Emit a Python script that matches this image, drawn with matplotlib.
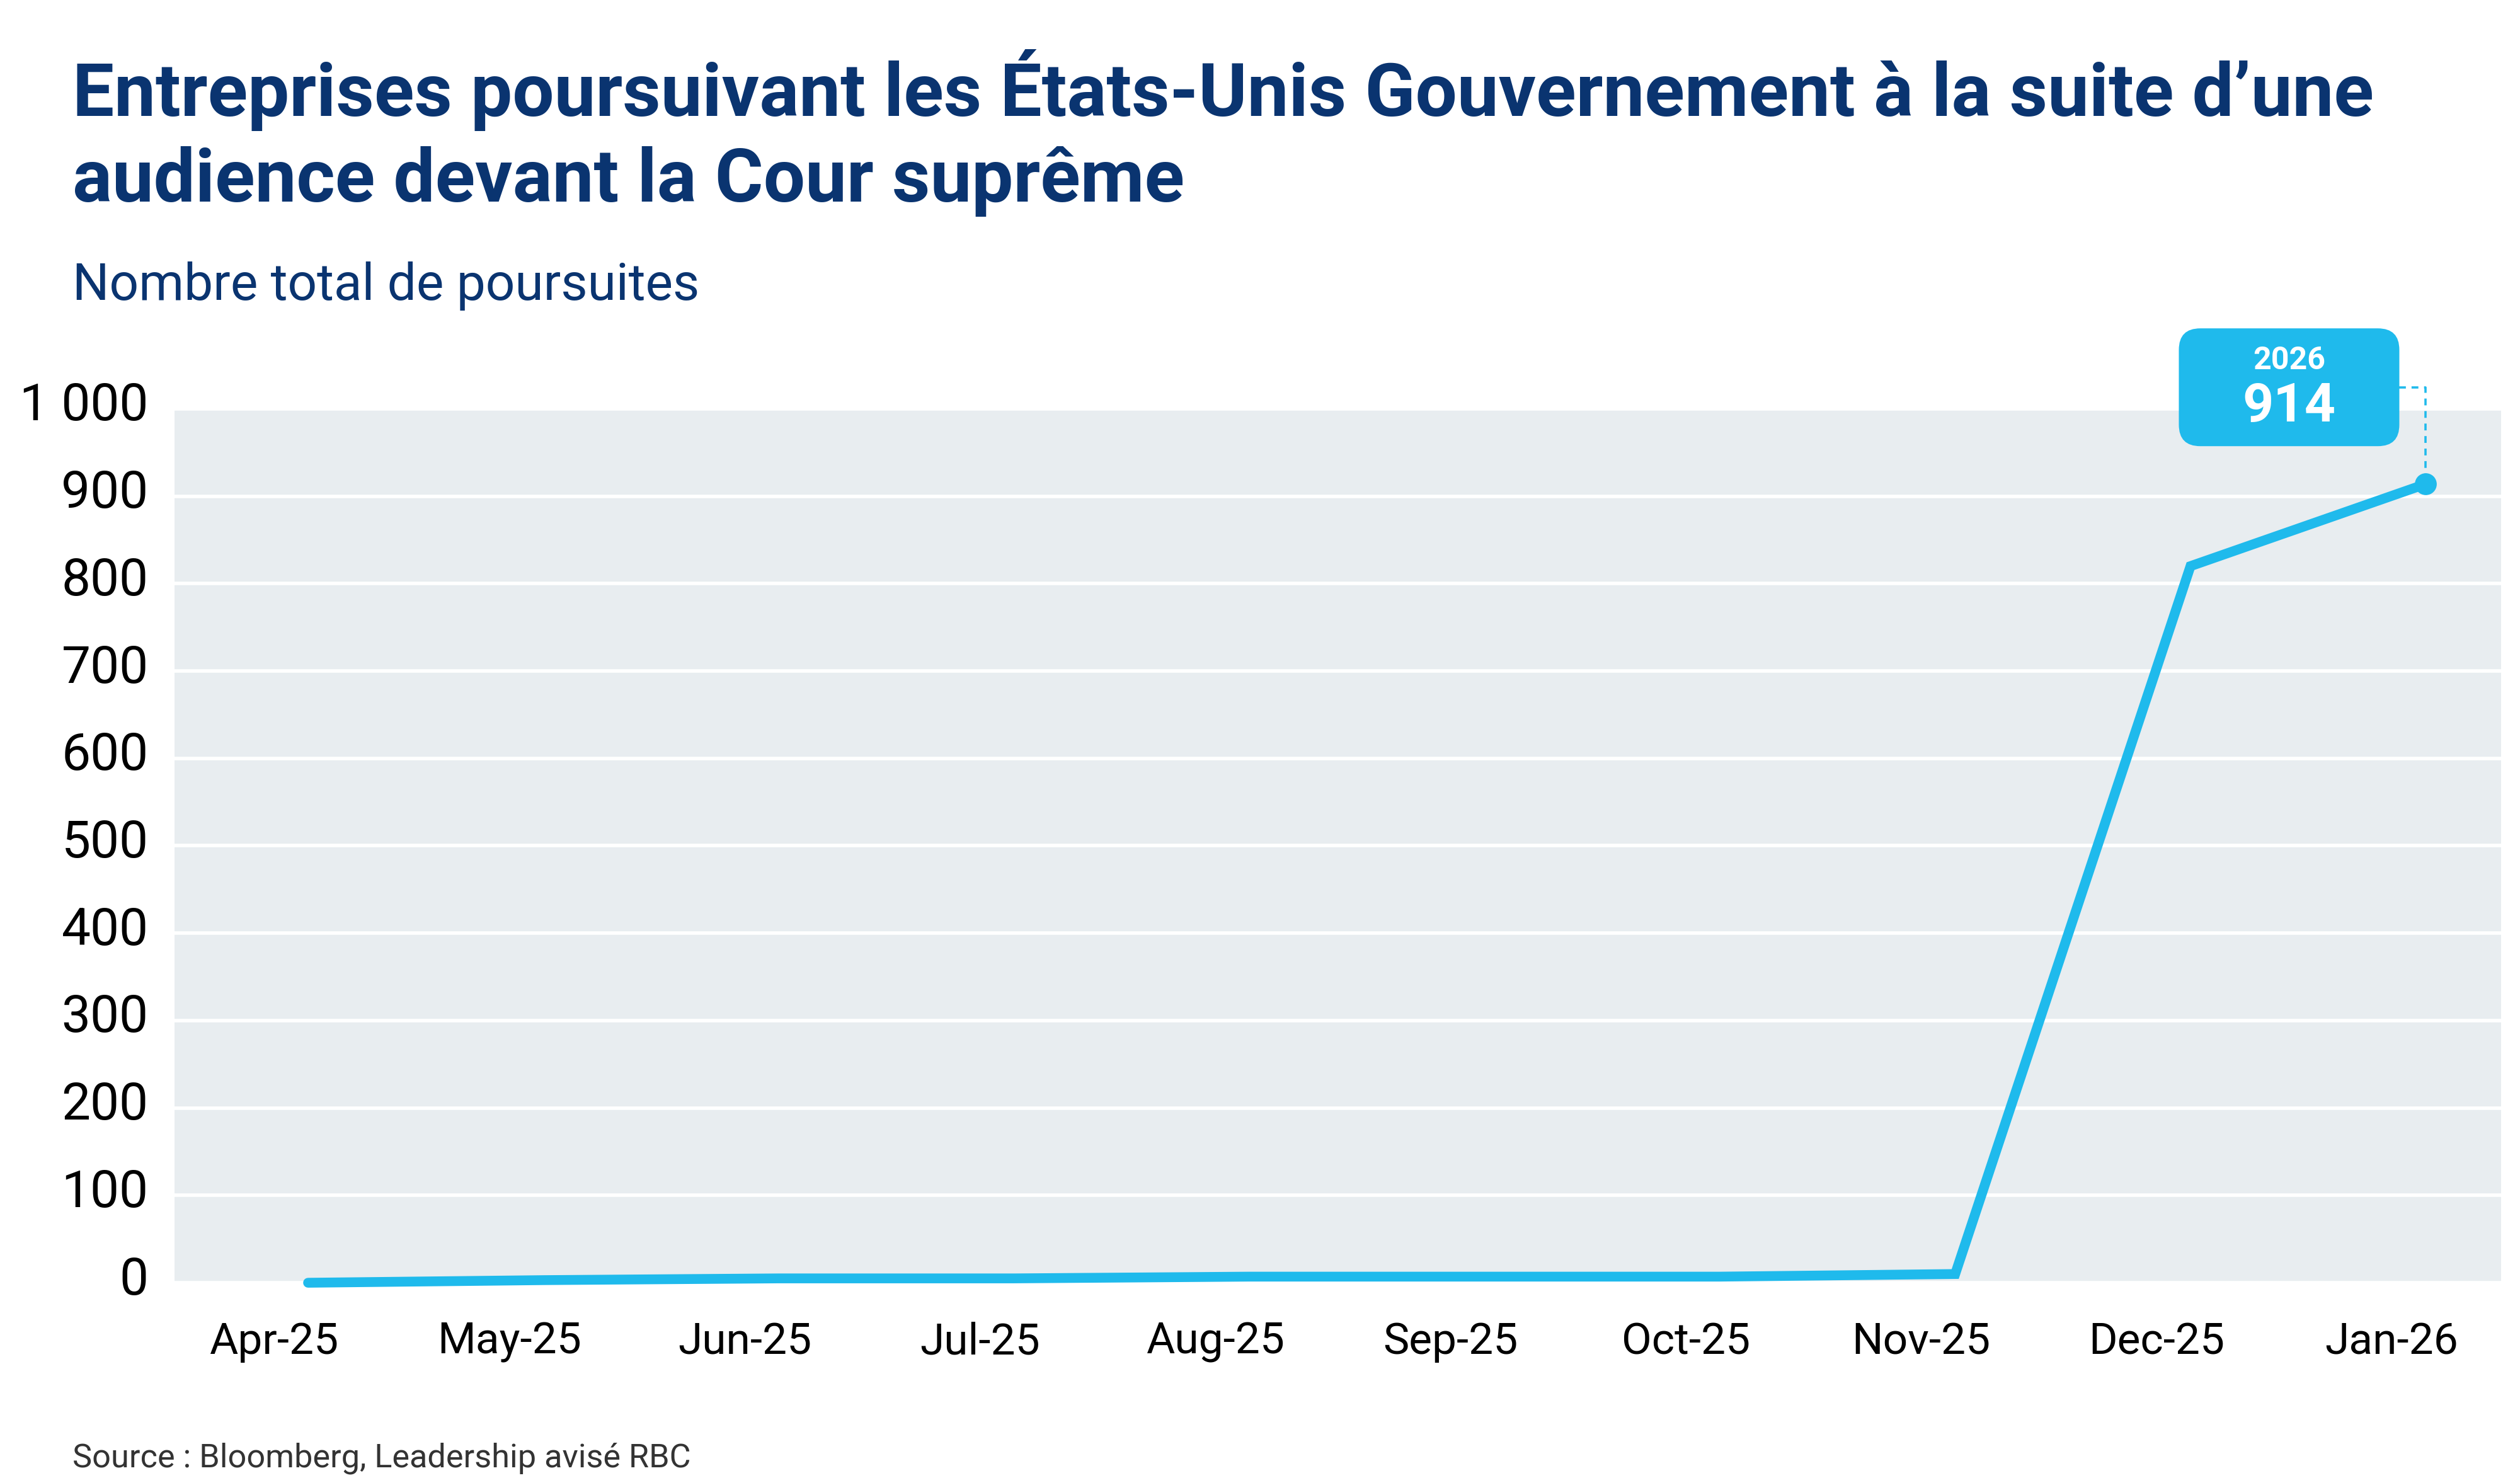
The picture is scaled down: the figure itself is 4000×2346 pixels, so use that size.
import matplotlib
matplotlib.use("Agg")
import matplotlib.pyplot as plt
import matplotlib.transforms as mtransforms
from matplotlib.patches import FancyBboxPatch
import numpy as np

# ---- data ----
months = ["Apr-25", "May-25", "Jun-25", "Jul-25", "Aug-25", "Sep-25",
          "Oct-25", "Nov-25", "Dec-25", "Jan-26"]
lawsuits = [0, 3, 5, 5, 7, 7, 7, 10, 820, 914]
y_ticks = [0, 100, 200, 300, 400, 500, 600, 700, 800, 900, 1000]
y_ticklabels = ["0", "100", "200", "300", "400", "500", "600", "700", "800", "900", "1 000"]
callout_year = "2026"
callout_value = "914"

title_line1 = "Entreprises poursuivant les États-Unis Gouvernement à la suite d’une"
title_line2 = "audience devant la Cour suprême"
subtitle = "Nombre total de poursuites"
source = "Source : Bloomberg, Leadership avisé RBC"

# ---- style ----
NAVY = "#0A3470"
BLUE = "#1FBAEC"
BG = "#E8EDF0"
FONT = ["Roboto", "DejaVu Sans"]
plt.rcParams["font.family"] = FONT

DPI = 200
fig = plt.figure(figsize=(4000 / DPI, 2346 / DPI), dpi=DPI)
ax = fig.add_axes([0.0693, 0.1321, 0.9925 - 0.0693, 0.7234 - 0.1321])
ax.set_facecolor(BG)

x = np.arange(len(months))
ax.plot(x, lawsuits, color=BLUE, lw=5.6, solid_capstyle="round",
        solid_joinstyle="miter", zorder=3, clip_on=False)
ax.plot(x[-1], lawsuits[-1], "o", color=BLUE, ms=11.5, zorder=4, clip_on=False)

ax.set_xlim(-0.567, 9.32)
ax.set_ylim(0, 1000)
ax.set_yticks(y_ticks)
ax.set_yticklabels(y_ticklabels)
ax.set_xticks(x - 0.145)
ax.set_xticklabels(months)
ax.grid(axis="y", color="white", lw=2.0, zorder=1)
ax.set_axisbelow(True)
for s in ax.spines.values():
    s.set_visible(False)
ax.tick_params(axis="both", length=0, colors="black")
ax.tick_params(axis="y", labelsize=29.5, pad=15)
ax.tick_params(axis="x", labelsize=25, pad=22)

# nudge y tick labels slightly upward as in the reference
up = mtransforms.ScaledTranslation(0, 0.06, fig.dpi_scale_trans)
for lbl in ax.get_yticklabels():
    lbl.set_transform(lbl.get_transform() + up)

# ---- callout ----
pt_tr = mtransforms.ScaledTranslation(x[-1], lawsuits[-1], ax.transData)
tr = fig.dpi_scale_trans + pt_tr
dy = 0.05
box = FancyBboxPatch((-1.96, 0.25 + dy), 1.75, 0.935,
                     boxstyle="round,pad=0,rounding_size=0.17",
                     transform=tr, facecolor=BLUE, edgecolor="none",
                     clip_on=False, zorder=6)
ax.add_patch(box)
ax.plot([-0.21, 0.0, 0.0], [0.715 + dy, 0.715 + dy, 0.07], transform=tr,
        color=BLUE, lw=1.3, ls=(0, (3, 2.5)), clip_on=False, zorder=5)
ax.text(-1.085, 0.93 + dy, callout_year, transform=tr, ha="center", va="center",
        color="white", fontsize=18, fontweight="bold", zorder=7)
ax.text(-1.085, 0.565 + dy, callout_value, transform=tr, ha="center", va="center",
        color="white", fontsize=31, fontweight="bold", zorder=7)

# ---- titles ----
fig.text(0.02875, 0.9216, title_line1, ha="left", va="baseline", color=NAVY,
         fontsize=42.3, fontweight="bold")
fig.text(0.02875, 0.8636, title_line2, ha="left", va="baseline", color=NAVY,
         fontsize=42.3, fontweight="bold")
fig.text(0.02875, 0.797, subtitle, ha="left", va="baseline", color=NAVY,
         fontsize=29.5)
fig.text(0.02875, 0.0075, source, ha="left", va="baseline", color="#333333",
         fontsize=18.8)

fig.savefig("out.png", dpi=DPI, facecolor="white")
